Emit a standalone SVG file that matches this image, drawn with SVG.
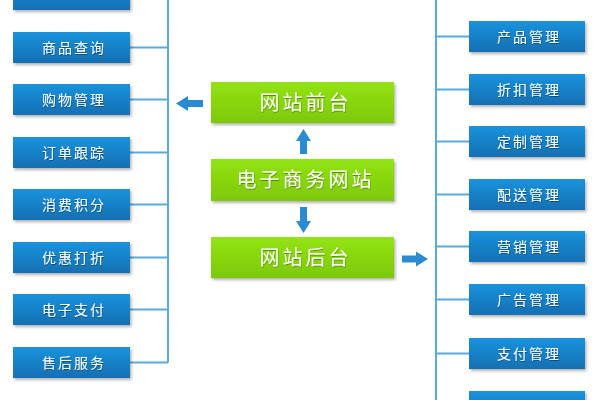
<svg xmlns="http://www.w3.org/2000/svg" width="600" height="400" viewBox="0 0 600 400">
<defs>
<linearGradient id="gb" x1="0" y1="0" x2="0" y2="1"><stop offset="0" stop-color="#1a93dc"/><stop offset="1" stop-color="#166fb3"/></linearGradient>
<linearGradient id="gg" x1="0" y1="0" x2="0" y2="1"><stop offset="0" stop-color="#93e313"/><stop offset="1" stop-color="#7cc90c"/></linearGradient>
<filter id="sh" x="-10%" y="-20%" width="125%" height="160%"><feDropShadow dx="1.5" dy="2" stdDeviation="1.5" flood-color="#000" flood-opacity="0.3"/></filter>
<filter id="ts" x="-10%" y="-30%" width="120%" height="160%"><feDropShadow dx="0.5" dy="1" stdDeviation="0.6" flood-color="#000" flood-opacity="0.35"/></filter>
</defs>
<style>
.b{fill:url(#gb);filter:url(#sh)}
.g{fill:url(#gg);filter:url(#sh)}
.bt{font-family:"Noto Sans CJK SC","Liberation Sans",sans-serif;font-size:14px;fill:#fff;text-anchor:middle;letter-spacing:2px;filter:url(#ts)}
.gt{font-family:"Noto Sans CJK SC","Liberation Sans",sans-serif;font-size:20px;fill:#fff;text-anchor:middle;letter-spacing:3px;filter:url(#ts)}
.ln{stroke:#5ba9df;stroke-width:2;fill:none}
.ar{fill:#2a8bd2}
</style>
<rect width="600" height="400" fill="#fff"/>
<g id="connectors">
<path class="ln" d="M168 0V362.5M130 -5.5H168M130 47.5H168M130 99.5H168M130 152.5H168M130 204.5H168M130 257.5H168M130 309.5H168M130 362.5H168"/>
<path class="ln" d="M436 0V400M436 36.5H469M436 89.5H469M436 141.5H469M436 194.5H469M436 246.5H469M436 299.5H469M436 353.5H469"/>
<polygon class="ar" points="176,103.5 188,96 188,100 203,100 203,107 188,107 188,111"/>
<polygon class="ar" points="428,259 416,251.5 416,255.5 402,255.5 402,262.5 416,262.5 416,266.5"/>
<polygon class="ar" points="303.5,129 311,141 307,141 307,154 300,154 300,141 296,141"/>
<polygon class="ar" points="303.5,233 311,221 307,221 307,207 300,207 300,221 296,221"/>
</g>
<g id="n-left0"><rect class="b" x="13" y="-21" width="117" height="31"/></g>
<g id="n-spcx"><rect class="b" x="13" y="32" width="117" height="31"/><text class="bt" x="74" y="52.5">商品查询</text></g>
<g id="n-gwgl"><rect class="b" x="13" y="84" width="117" height="31"/><text class="bt" x="74" y="104.5">购物管理</text></g>
<g id="n-ddgz"><rect class="b" x="13" y="137" width="117" height="31"/><text class="bt" x="74" y="157.5">订单跟踪</text></g>
<g id="n-xfjf"><rect class="b" x="13" y="189" width="117" height="31"/><text class="bt" x="74" y="209.5">消费积分</text></g>
<g id="n-yhdz"><rect class="b" x="13" y="242" width="117" height="31"/><text class="bt" x="74" y="262.5">优惠打折</text></g>
<g id="n-dzzf"><rect class="b" x="13" y="294" width="117" height="31"/><text class="bt" x="74" y="314.5">电子支付</text></g>
<g id="n-shfw"><rect class="b" x="13" y="347" width="117" height="31"/><text class="bt" x="74" y="367.5">售后服务</text></g>
<g id="n-right0"><rect class="b" x="469" y="-32" width="116" height="31"/></g>
<g id="n-cpgl"><rect class="b" x="469" y="21" width="116" height="31"/><text class="bt" x="529" y="41.5">产品管理</text></g>
<g id="n-zkgl"><rect class="b" x="469" y="74" width="116" height="31"/><text class="bt" x="529" y="94.5">折扣管理</text></g>
<g id="n-dzgl"><rect class="b" x="469" y="126" width="116" height="31"/><text class="bt" x="529" y="146.5">定制管理</text></g>
<g id="n-psgl"><rect class="b" x="469" y="179" width="116" height="31"/><text class="bt" x="529" y="199.5">配送管理</text></g>
<g id="n-yxgl"><rect class="b" x="469" y="231" width="116" height="31"/><text class="bt" x="529" y="251.5">营销管理</text></g>
<g id="n-gggl"><rect class="b" x="469" y="284" width="116" height="31"/><text class="bt" x="529" y="304.5">广告管理</text></g>
<g id="n-zfgl"><rect class="b" x="469" y="338" width="116" height="31"/><text class="bt" x="529" y="358.5">支付管理</text></g>
<g id="n-right9"><rect class="b" x="469" y="391" width="116" height="31"/></g>
<g id="n-qt"><rect class="g" x="211" y="82" width="183" height="41"/><text class="gt" x="305.5" y="109.5">网站前台</text></g>
<g id="n-dzsw"><rect class="g" x="211" y="159" width="183" height="42"/><text class="gt" x="305.5" y="187">电子商务网站</text></g>
<g id="n-ht"><rect class="g" x="211" y="237" width="183" height="41"/><text class="gt" x="305.5" y="264.5">网站后台</text></g>
</svg>
